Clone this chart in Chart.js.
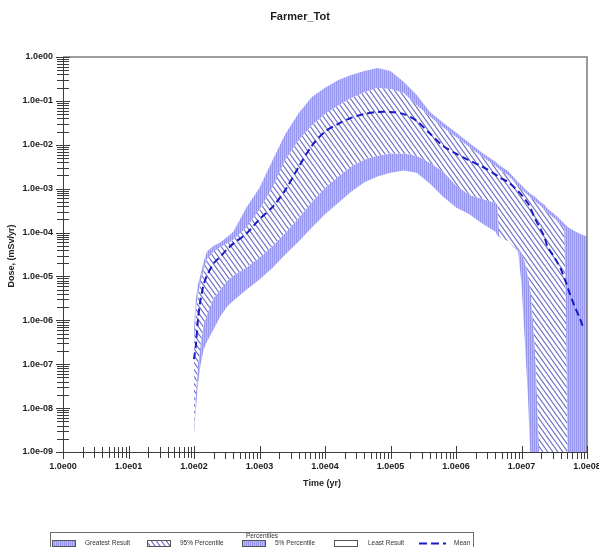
<!DOCTYPE html>
<html><head><meta charset="utf-8">
<script src="https://cdn.jsdelivr.net/npm/chart.js@4"></script>
<style>html,body{margin:0;padding:0;background:#fff;}canvas{display:block;}</style>
</head><body>
<canvas id="c" width="599" height="547"></canvas>
<script>
const chartTitle = 'Farmer_Tot';
const xAxisTitle = 'Time (yr)';
const yAxisTitle = 'Dose, (mSv/yr)';
const legendTitle = 'Percentiles';
const seriesNames = ['Greatest Result', '95% Percentile', '5% Percentile', 'Least Result', 'Mean'];

const times = [100, 107, 115, 126, 141, 158, 200, 251, 316, 398, 631, 1000, 1.6e3, 2.5e3, 4.0e3, 6.3e3,
  1e4, 1.6e4, 2.5e4, 4.0e4, 6.3e4, 1e5, 1.6e5, 2.5e5, 4.0e5, 6.3e5, 1e6, 1.6e6, 2.5e6, 4.0e6, 4.3e6, 4.6e6,
  6.3e6, 8.9e6, 1.0e7, 1.12e7, 1.26e7, 1.38e7, 1.58e7, 1.66e7, 1.9e7, 2.24e7, 2.5e7, 3.2e7, 4.0e7, 4.5e7,
  4.8e7, 5.2e7, 6.3e7, 7.9e7, 8.9e7, 1.0e8];

const greatest = [6.3e-7, 3.0e-6, 6.6e-6, 1.1e-5, 2.2e-5, 3.7e-5, 5.0e-5, 5.9e-5, 7.8e-5, 1.05e-4, 3.7e-4, 1.05e-3, 4.6e-3, 1.8e-2, 5.4e-2, 0.123,
  0.20, 0.30, 0.39, 0.48, 0.56, 0.48, 0.27, 0.138, 5.6e-2, 3.2e-2, 1.9e-2, 1.1e-2, 6.6e-3, 4.1e-3, 3.7e-3, 3.4e-3,
  2.5e-3, 1.4e-3, 1.2e-3, 1.0e-3, 8.5e-4, 7.6e-4, 6.6e-4, 6.2e-4, 5.1e-4, 4.3e-4, 3.5e-4, 2.6e-4, 1.9e-4, 1.6e-4,
  1.45e-4, 1.3e-4, 1.1e-4, 9.3e-5, 8.7e-5, 8.1e-5];

const p95 = [2.8e-7, 1.8e-6, 3.9e-6, 7.2e-6, 1.45e-5, 2.5e-5, 3.7e-5, 4.6e-5, 5.6e-5, 6.9e-5, 1.3e-4, 3.3e-4, 1.1e-3, 4.6e-3, 1.3e-2, 2.8e-2,
  5.0e-2, 7.8e-2, 0.117, 0.158, 0.20, 0.186, 0.151, 8.1e-2, 4.4e-2, 2.5e-2, 1.5e-2, 8.9e-3, 5.4e-3, 3.3e-3, 3.0e-3, 2.75e-3,
  2.0e-3, 1.15e-3, 9.5e-4, 8.3e-4, 7.1e-4, 6.3e-4, 5.4e-4, 5.0e-4, 4.2e-4, 3.3e-4, 2.8e-4, 2.1e-4, 1.5e-4, 1.3e-4,
  1.0e-6, 1e-11, 1e-11, 1e-11, 1e-11, 1e-11];

const mean = [1.3e-7, 2.8e-7, 1.05e-6, 3.0e-6, 6.6e-6, 1.05e-5, 2.0e-5, 2.8e-5, 4.1e-5, 5.6e-5, 9.5e-5, 2.0e-4, 3.9e-4, 9.5e-4, 3.2e-3, 9.5e-3,
  2.0e-2, 3.0e-2, 4.1e-2, 5.0e-2, 5.6e-2, 5.6e-2, 5.0e-2, 3.5e-2, 1.8e-2, 9.5e-3, 6.3e-3, 4.4e-3, 3.2e-3, 2.1e-3, 1.95e-3, 1.8e-3,
  1.4e-3, 8.7e-4, 7.2e-4, 5.8e-4, 4.6e-4, 3.5e-4, 2.2e-4, 1.9e-4, 1.3e-4, 7.9e-5, 4.8e-5, 2.7e-5, 1.45e-5, 9.1e-6,
  7.2e-6, 5.0e-6, 2.3e-6, 1.05e-6, 6.3e-7, null];

const p5 = [3.3e-9, 2.1e-8, 1.0e-7, 2.8e-7, 8.1e-7, 1.4e-6, 3.3e-6, 5.0e-6, 7.8e-6, 1.05e-5, 1.6e-5, 2.7e-5, 5.0e-5, 1.0e-4, 2.2e-4, 5.0e-4,
  1.05e-3, 1.9e-3, 3.2e-3, 4.6e-3, 5.6e-3, 6.3e-3, 6.3e-3, 5.6e-3, 3.9e-3, 2.5e-3, 1.2e-3, 7.2e-4, 5.9e-4, 4.8e-4, 4.4e-4, 7.8e-5,
  6.3e-5, 4.1e-5, 3.3e-5, 2.2e-5, 1.0e-5, 4.5e-6, 3.2e-7, 7.8e-8, 5e-10, 1e-11, 1e-11, 1e-11, 1e-11, 1e-11,
  1e-11, 1e-11, 1e-11, 1e-11, 1e-11, 1e-11];

const least = [2.6e-9, 9.5e-9, 3.5e-8, 1.0e-7, 2.2e-7, 3.3e-7, 6.3e-7, 1.2e-6, 2.0e-6, 2.8e-6, 5.0e-6, 8.5e-6, 1.6e-5, 3.2e-5, 6.3e-5, 1.3e-4,
  2.6e-4, 4.8e-4, 8.5e-4, 1.4e-3, 1.9e-3, 2.3e-3, 2.6e-3, 2.3e-3, 1.3e-3, 6.6e-4, 3.7e-4, 2.6e-4, 1.6e-4, 1.05e-4, 8.5e-5, 7.8e-5,
  6.3e-5, 3.7e-5, 6.6e-6, 3.7e-7, 1.6e-8, 5e-10, 1e-11, 1e-11, 1e-11, 1e-11, 1e-11, 1e-11, 1e-11, 1e-11,
  1e-11, 1e-11, 1e-11, 1e-11, 1e-11, 1e-11];

const xTickValues = [1, 10, 100, 1e3, 1e4, 1e5, 1e6, 1e7, 1e8];
const xTickLabels = ['1.0e00', '1.0e01', '1.0e02', '1.0e03', '1.0e04', '1.0e05', '1.0e06', '1.0e07', '1.0e08'];
const yTickValues = [1e-9, 1e-8, 1e-7, 1e-6, 1e-5, 1e-4, 1e-3, 1e-2, 1e-1, 1];
const yTickLabels = ['1.0e-09', '1.0e-08', '1.0e-07', '1.0e-06', '1.0e-05', '1.0e-04', '1.0e-03', '1.0e-02', '1.0e-01', '1.0e00'];

const FONT = '"Liberation Sans", Arial, sans-serif';
const MEAN_COLOR = '#1a1ac4';

const canvas = document.getElementById('c');
const ctx0 = canvas.getContext('2d');

function lavenderPattern() {
  const c = document.createElement('canvas');
  c.width = 2; c.height = 2;
  const g = c.getContext('2d');
  g.fillStyle = '#babafb'; g.fillRect(0, 0, 2, 2);
  g.fillStyle = '#9696ee'; g.fillRect(0, 0, 1, 2);
  return ctx0.createPattern(c, 'repeat');
}
function diagPattern() {
  const w = 5, h = 7;
  const c = document.createElement('canvas');
  c.width = w; c.height = h;
  const g = c.getContext('2d');
  g.fillStyle = '#ffffff'; g.fillRect(0, 0, w, h);
  g.strokeStyle = '#6e6ec8'; g.lineWidth = 1.1;
  g.beginPath();
  for (const k of [-1, 0, 1]) { g.moveTo(k * w - w, -h); g.lineTo(k * w + 2 * w, 2 * h); }
  g.stroke();
  return ctx0.createPattern(c, 'repeat');
}
const lavender = lavenderPattern();
const diag = diagPattern();

function pts(arr) { return times.map((t, i) => ({ x: t, y: arr[i] })); }

const decor = {
  id: 'decor',
  afterDraw(chart) {
    const { ctx, chartArea: a, scales: { x, y } } = chart;
    ctx.save();
    // frame top/right
    ctx.strokeStyle = '#7c7c7c'; ctx.lineWidth = 1.5;
    ctx.beginPath();
    ctx.moveTo(a.left, a.top); ctx.lineTo(a.right, a.top); ctx.lineTo(a.right, a.bottom);
    ctx.stroke();
    // y ticks
    ctx.strokeStyle = '#3c3c3c'; ctx.lineWidth = 1;
    ctx.beginPath();
    for (let e = -9; e <= 0; e++) {
      for (let m = 1; m <= 9; m++) {
        const v = m * Math.pow(10, e);
        if (v > 1.0000001) break;
        const py = Math.round(y.getPixelForValue(v)) + 0.5;
        const l = m === 1 ? 7 : 6;
        ctx.moveTo(a.left - l, py); ctx.lineTo(a.left + l, py);
      }
    }
    // x ticks
    for (let e = 0; e <= 8; e++) {
      for (let m = 1; m <= 9; m++) {
        const v = m * Math.pow(10, e);
        if (v > 1.0000001e8) break;
        const px = Math.round(x.getPixelForValue(v)) + 0.5;
        if (m === 1) { ctx.moveTo(px, a.bottom - 6); ctx.lineTo(px, a.bottom + 7); }
        else if (e < 2) { ctx.moveTo(px, a.bottom - 5); ctx.lineTo(px, a.bottom + 6); }
        else { ctx.moveTo(px, a.bottom); ctx.lineTo(px, a.bottom + 7); }
      }
    }
    ctx.stroke();
    // titles
    ctx.fillStyle = '#1e1e1e';
    ctx.textAlign = 'center'; ctx.textBaseline = 'middle';
    ctx.font = 'bold 11px ' + FONT;
    ctx.fillText(chartTitle, 300, 17);
    ctx.font = 'bold 9px ' + FONT;
    ctx.fillText(xAxisTitle, 322, 484);
    ctx.save();
    ctx.translate(12, 256); ctx.rotate(-Math.PI / 2);
    ctx.fillText(yAxisTitle, 0, 0);
    ctx.restore();
    // legend
    ctx.strokeStyle = '#6c6c6c'; ctx.lineWidth = 1;
    ctx.strokeRect(50.5, 532.5, 423, 30);
    ctx.fillStyle = '#333';
    ctx.font = '6.5px ' + FONT;
    ctx.fillText(legendTitle, 262, 536.5);
    const sw = [[52, lavender], [147, diag], [242, lavender], [334, '#ffffff']];
    const tx = [85, 180, 275, 368, 454];
    ctx.strokeStyle = '#555';
    for (let i = 0; i < 4; i++) {
      ctx.fillStyle = sw[i][1];
      ctx.fillRect(sw[i][0], 540, 23, 6);
      ctx.strokeRect(sw[i][0] + 0.5, 540.5, 23, 6);
    }
    ctx.strokeStyle = MEAN_COLOR; ctx.lineWidth = 2; ctx.setLineDash([8, 4]);
    ctx.beginPath(); ctx.moveTo(419, 543.5); ctx.lineTo(446, 543.5); ctx.stroke();
    ctx.setLineDash([]);
    ctx.fillStyle = '#333'; ctx.textAlign = 'left';
    for (let i = 0; i < 5; i++) ctx.fillText(seriesNames[i], tx[i], 543.5);
    ctx.restore();
  }
};

const tickFont = { family: FONT, size: 9, weight: 'bold' };

new Chart(canvas, {
  type: 'line',
  data: {
    datasets: [
      { label: seriesNames[0], data: pts(greatest), fill: '+1', backgroundColor: lavender, borderWidth: 0, pointRadius: 0 },
      { label: seriesNames[1], data: pts(p95), fill: '+1', backgroundColor: diag, borderWidth: 0, pointRadius: 0 },
      { label: seriesNames[2], data: pts(p5), fill: '+1', backgroundColor: lavender, borderWidth: 0, pointRadius: 0 },
      { label: seriesNames[3], data: pts(least), fill: false, borderWidth: 0, pointRadius: 0 },
      { label: seriesNames[4], data: pts(mean), fill: false, borderColor: MEAN_COLOR, borderWidth: 2, borderDash: [7, 4], pointRadius: 0, order: -1, tension: 0.3 }
    ]
  },
  options: {
    responsive: false,
    animation: false,
    devicePixelRatio: 1,
    layout: { padding: { top: 57, right: 12, left: 0, bottom: 0 } },
    plugins: { legend: { display: false }, title: { display: false }, tooltip: { enabled: false } },
    elements: { line: { tension: 0 } },
    scales: {
      x: {
        type: 'logarithmic', min: 1, max: 1e8, position: 'bottom',
        grid: { display: false, drawTicks: false },
        border: { display: true, color: '#3c3c3c', width: 1 },
        afterBuildTicks(s) { s.ticks = xTickValues.map(v => ({ value: v })); },
        ticks: { autoSkip: false, maxRotation: 0, padding: 9, font: tickFont, color: '#1e1e1e',
          callback: (v, i) => xTickLabels[i] },
        afterFit(s) { s.height = 95; s.paddingLeft = 0; s.paddingRight = 0; }
      },
      y: {
        type: 'logarithmic', min: 1e-9, max: 1, position: 'left',
        grid: { display: false, drawTicks: false },
        border: { display: true, color: '#3c3c3c', width: 1 },
        afterBuildTicks(s) { s.ticks = yTickValues.map(v => ({ value: v })); },
        ticks: { autoSkip: false, padding: 10, font: tickFont, color: '#1e1e1e',
          callback: (v, i) => yTickLabels[i] },
        afterFit(s) { s.width = 63; s.paddingTop = 0; s.paddingBottom = 0; }
      }
    }
  },
  plugins: [decor]
});
</script>
</body></html>
